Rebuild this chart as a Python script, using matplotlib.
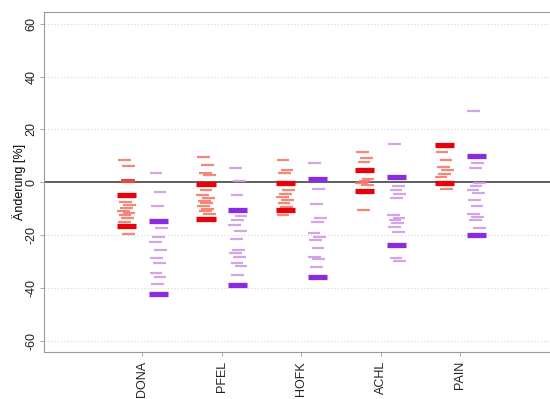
import numpy as np
import matplotlib.pyplot as plt

plt.rcParams['font.family'] = ['Liberation Sans', 'DejaVu Sans']

stations = ["DONA", "PFEL", "HOFK", "ACHL", "PAIN"]

# single ensemble members (thin) and summary marks (thick), change in %
red_members = [
    [8.6, 6.1, -7.5, -8.7, -9.8, -10.8, -11.6, -12.4, -13.6, -15.0, -19.7],
    [9.6, 6.4, 3.5, 2.7, -3.0, -5.0, -6.0, -7.0, -8.0, -9.0, -10.0, -11.0, -12.0],
    [8.3, 4.5, 3.5, -3.0, -4.5, -5.5, -6.8, -8.0, -9.4, -12.5],
    [11.5, 9.0, 7.7, 1.4, 0.5, -0.3, -1.1, -10.6],
    [11.5, 8.6, 5.8, 4.5, 3.2, 2.0, -2.4],
]
red_summary = [
    [-4.7, -16.7],
    [-0.8, -14.1],
    [-0.3, -10.4],
    [4.5, -3.4],
    [14.0, -0.3],
]
# ensemble median marks shown only where they stand apart
red_median = [0.3, None, None, None, None]
purple_members = [
    [3.3, -3.7, -9.0, -17.5, -20.7, -22.6, -25.8, -28.9, -30.6, -34.3, -36.1, -38.6],
    [5.2, 0.5, -4.7, -12.9, -14.4, -16.3, -18.4, -21.6, -25.8, -27.0, -28.3,
     -30.8, -31.8, -35.2],
    [7.1, -2.4, -8.1, -13.6, -15.0, -19.4, -20.8, -22.0, -25.0, -28.3, -29.2, -32.0],
    [14.6, -1.5, -2.8, -4.3, -5.9, -12.5, -13.4, -14.4, -15.6, -16.9, -18.8,
     -28.9, -29.9],
    [26.9, 7.1, 5.2, -0.4, -1.5, -2.8, -4.2, -6.8, -9.1, -11.9, -13.2, -14.4, -17.5],
]
purple_summary = [
    [-14.8, -42.5],
    [-10.6, -38.8],
    [1.4, -36.1],
    [2.0, -23.9],
    [9.8, -20.1],
]

fig = plt.figure(figsize=(5.5, 3.99), dpi=100)
ax = fig.add_axes([0.08, 0.118, 0.93, 0.852])

jitter = [-0.03, 0.02, -0.01, 0.04, 0.0, -0.04, 0.03, -0.02, 0.01]

for i in range(len(stations)):
    xpos = i + 1
    for side, members, summary, thin_col, thick_col in [
        (-0.2, red_members[i], red_summary[i], '#f47a6a', '#e8000b'),
        (0.2, purple_members[i], purple_summary[i], '#cf9be6', '#8a2be2'),
    ]:
        for k, v in enumerate(members):
            c = xpos + side + jitter[k % len(jitter)]
            ax.hlines(v, c - 0.08, c + 0.08, colors=thin_col, linewidth=1.6, alpha=0.9)
        for v in summary:
            c = xpos + side
            ax.hlines(v, c - 0.12, c + 0.12, colors=thick_col, linewidth=3.8)
    if red_median[i] is not None:
        c = xpos - 0.2 + 0.02
        ax.hlines(red_median[i], c - 0.09, c + 0.09, colors='#e5483c',
                  linewidth=3.0, zorder=3)

ax.axhline(0, color='#444444', linewidth=1.2, zorder=1)
for g in [-60, -40, -20, 20, 40, 60]:
    ax.axhline(g, color='#d4d4d4', linewidth=0.8, linestyle=(0, (1, 2)), zorder=0)

ax.set_xlim(-0.24, 6.2)
ax.set_ylim(-64.3, 64.5)
ax.set_xticks(range(1, len(stations) + 1))
ax.set_xticklabels(stations, rotation=90, fontsize=9)
ax.set_yticks(range(-60, 61, 20))
ax.set_yticklabels([str(t) for t in range(-60, 61, 20)], rotation=90, va='center', fontsize=9)
ax.set_ylabel('Änderung [%]', fontsize=9, labelpad=0)

for s in ['left', 'top', 'bottom']:
    ax.spines[s].set_color('#999999')
ax.spines['right'].set_visible(False)
ax.tick_params(colors='#222222', length=3, width=0.6)
ax.tick_params(axis='both', color='#999999')
ax.tick_params(axis='y', pad=1.5)

fig.savefig('out.png', dpi=100)
